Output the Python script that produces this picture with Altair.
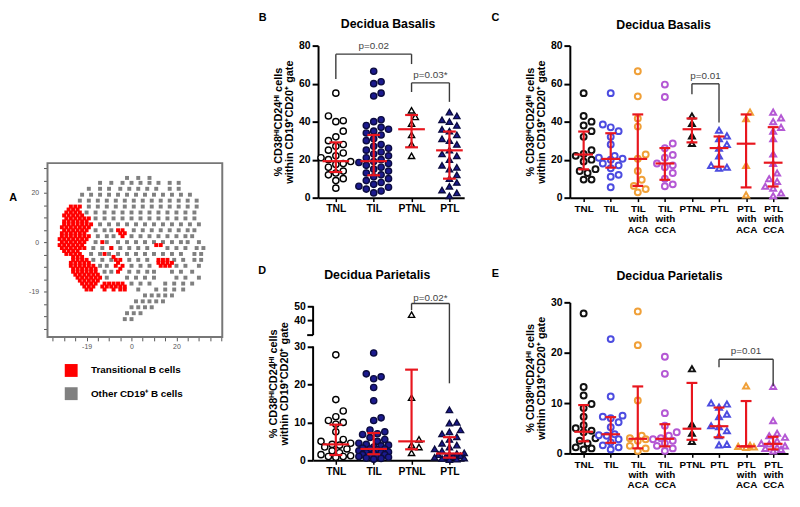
import altair as alt
import pandas as pd

FONT = "Liberation Sans"
RED_BAR = "#e8161e"
NAVY = "#1b1a8e"
C_BLACK = "#111111"
C_BLUE = "#4c4ce0"
C_ORANGE = "#f0a038"
C_PURPLE = "#b458d4"
BRACKET = "#3a3a3a"

# ---------------- Panel A: t-SNE map, read row by row (y: list of x) ----------------
gray_y = [26.0, 24.0, 21.6, 19.2, 16.8, 14.4, 12.0, 9.6, 7.2, 4.8, 2.4, 0.0, -2.4, -4.8,
          -7.2, -9.6, -12.0, -14.4, -16.8, -19.2, -21.6, -24.0, -26.4, -28.8, -31.2]
gray_x = [
    [-2, 3, 8],
    [-14, -9, -4, 0, 4, 8, 12, 17, 21],
    [-19, -14, -10, -5, -1, 3, 7, 11, 17, 21],
    [-22, -18, -14, -10, -6, -2, 2, 6, 10, 14, 18, 22, 26],
    [-23, -19, -15, -11, -7, -3, 1, 5, 9, 13, 17, 21, 25, 29],
    [-19, -15, -11, -7, -3, 1, 5, 9, 13, 17, 21, 25, 29],
    [-20, -16, -12, -8, -4, 0, 4, 8, 12, 16, 20, 24, 28],
    [-16, -12, -8, -4, 0, 4, 8, 12, 16, 20, 24, 28],
    [-14, -10, -6, -2, 2, 6, 10, 14, 18, 22, 26, 30],
    [-16, -12, -9, 1, 5, 9, 13, 17, 21, 25, 28],
    [-15, -11, -8, 0, 4, 8, 12, 16, 20, 24, 27],
    [-16, -11, -6, -2, 2, 6, 10, 14, 18, 22, 25, 30],
    [-17, -13, -9, -5, -1, 3, 7, 16, 20, 24, 29, 32],
    [-18, -14, -10, -6, -2, 2, 6, 10, 14, 18, 22, 28, 31],
    [-17, -13, -9, -1, 3, 7, 19, 23, 28, 31],
    [-14, -11, 0, 4, 8, 20, 24, 30],
    [-12, -9, -1, 3, 7, 10, 18, 22, 27],
    [-11, -2, 2, 6, 10, 20, 24, 30],
    [0, 4, 8, 15, 19, 23, 27],
    [3, 11, 15, 19, 23],
    [6, 9, 12, 15, 18],
    [2, 5, 8, 11, 14],
    [0, 3, 6, 9],
    [-2, 1, 4],
    [-3, 0],
]
red_y = [14.4, 13.2, 12.0, 10.8, 9.6, 8.4, 7.2, 6.0, 4.8, 3.6, 2.4, 1.2, 0.0, -1.2, -2.4,
         -3.6, -4.8, -6.0, -7.2, -8.4, -9.6, -10.8, -12.0, -13.2, -14.4, -15.6, -16.8, -18.0, -19.2]
red_x = [
    [-27, -25, -23],
    [-28, -26, -24],
    [-29, -27, -25, -23],
    [-30, -28, -26, -24, -22],
    [-29, -27, -25, -23, -21, -19],
    [-30, -28, -26, -24, -22, -20],
    [-30, -28, -26, -24, -22, -20, -18],
    [-31, -29, -27, -25, -23, -21, -19],
    [-30, -28, -26, -24, -22, -20, -6, -4],
    [-31, -29, -27, -25, -23, -21, -5, -3],
    [-31, -29, -27, -25, -23, -21, -19, -4],
    [-32, -30, -28, -26, -24, -22, -20],
    [-31, -29, -27, -25, -23, -21, -13],
    [-32, -30, -28, -26, -24, -22, 11, 13],
    [-31, -29, -27, -25, -23, -21, -9],
    [-30, -28, -26, -24],
    [-29, -27, -25, -23, -12],
    [-26, -24, -22, -8],
    [-26, -24, -22, -20, -7, -5, 12, 14, 16],
    [-27, -25, -23, -21, -19, -6, 12, 14, 16, 18],
    [-27, -25, -23, -21, -19, -17, -7, -4, 13, 15, 17],
    [-26, -24, -22, -20, -18, -16, -5],
    [-26, -24, -22, -20, -18, -16, -6],
    [-25, -23, -21, -19, -17, -15],
    [-24, -22, -20, -18, -16, -14],
    [-23, -21, -19, -17, -15],
    [-22, -20, -18, -16, -12, -10, -8, -6, -4],
    [-21, -19, -17, -13, -11, -9, -7, -5, -3],
    [-20, -18, -12, -8, -5, -3],
]
A_classes = ["Transitional B cells", "Other CD19⁺ B cells"]

# ---------------- Panels B / D: four groups ----------------
groups4 = ["TNL", "TIL", "PTNL", "PTL"]
labels4 = ["TNL", "TIL", "PTNL", "PTL"]

B_TNL = [55, 43, 40.5, 40, 35, 32, 30, 28, 27, 25, 23.5, 22, 21, 20, 19, 18, 17.5, 16, 14, 13, 12, 10, 9, 5]
B_TIL = [66.5, 61, 60, 55, 53.5, 41, 40, 38, 37, 36, 35, 34, 33, 31, 30, 28, 27, 26, 25, 24, 23, 22, 21,
         20, 19, 18.5, 18, 17, 16, 15, 14, 13, 12, 11, 10, 9, 8, 7, 6, 5.5, 4.5, 3.5, 2.5]
B_PTNL = [46, 42.5, 39, 33, 28, 22]
B_PTL = [45, 43, 41, 40, 38, 36, 35, 33, 31, 30, 28, 25, 23, 22, 20, 17, 16, 15, 12, 10, 8, 6, 4, 2.5, 1]
B_med = [19.2, 19.2, 36.0, 24.9]
B_q1 = [13.5, 11.8, 26.5, 10.0]
B_q3 = [29.1, 33.0, 43.5, 34.8]

D_TNL = [27.8, 16, 13, 11.5, 10.5, 10, 9.5, 7.5, 5.5, 5, 4.5, 4.2, 4, 3.5, 3, 2.5, 2, 1.5, 1.2, 1, 1, 0.8]
D_TIL = [28.3, 22.8, 22, 21.5, 19.2, 15.7, 11.2, 10.5, 8, 7.5, 7, 6.8, 6, 5.5, 5, 4.5, 4.2, 4, 3.8, 3.5,
         3.2, 3, 3, 2.8, 2.5, 2.2, 2, 2, 1.8, 1.5, 1.5, 1.2, 1, 1, 0.8, 0.6, 0.5, 0.3]
D_PTNL = [44, 16.5, 5.5, 4, 3.5, 2]
D_PTL = [13.3, 10, 9.8, 8, 7.5, 7, 6.2, 5.5, 4.5, 4, 3.5, 3, 2.5, 2, 1.8, 1.6, 1.5, 1.2, 1, 1, 0.8,
         0.6, 0.5, 0.3, 0.2]
D_med = [4.2, 3.0, 5.0, 1.8]
D_q1 = [1.4, 1.6, 2.9, 0.7]
D_q3 = [9.4, 7.2, 23.9, 6.1]

# ---------------- Panels C / E: eight groups ----------------
groups8 = ["TNL", "TIL", "TIL with ACA", "TIL with CCA", "PTNL", "PTL", "PTL with ACA", "PTL with CCA"]
labels8 = ["TNL", "TIL", "TIL|with|ACA", "TIL|with|CCA", "PTNL", "PTL", "PTL|with|ACA", "PTL|with|CCA"]

C_TNL = [55, 43, 40, 38, 35, 32, 25, 23, 22, 20, 19, 15, 14, 13, 9.5, 9.5]
C_TIL = [55, 38.5, 37, 35, 32, 28, 22, 21, 20.5, 20, 18, 17, 15.5, 12, 11, 5.5]
C_TILACA = [66.5, 53.3, 41.7, 37.4, 22.7, 20.5, 14, 9.4, 6.2, 4.5, 2.8]
C_TILCCA = [59.5, 53, 28.5, 26, 22.5, 21, 18, 17, 16, 13, 10, 7, 6]
C_PTNL = [43, 39, 32.5, 28.5]
C_PTL = [35.5, 32.5, 31, 28, 26, 22, 17, 16, 15.5]
C_PTLACA = [45, 41.5, 17, 1.5]
C_PTLCCA = [45, 42, 40, 37, 35, 31, 23, 18, 13, 10, 8.5, 6, 5, 2.5, 1]
C_med = [22.7, 20.4, 20.4, 18.0, 36.0, 26.1, 28.4, 18.4]
C_q1 = [14.9, 15.8, 6.2, 9.4, 29.1, 16.3, 5.4, 5.9]
C_q3 = [34.8, 33.9, 43.8, 26.1, 41.7, 32.2, 43.8, 37.1]

E_TNL = [27.8, 13.2, 11.5, 9.8, 9, 7.3, 5.6, 5, 4.5, 4.2, 3, 2.5, 2, 1.2, 1, 0.8]
E_TIL = [22.7, 11.3, 7.5, 7.3, 7, 6.2, 5.2, 3.8, 3.6, 3.5, 2.8, 2.2, 1.6, 1.2, 0.8]
E_TILACA = [28.2, 21.5, 10.5, 3.5, 3, 2.8, 2.5, 1.5, 1, 0.5]
E_TILCCA = [19.2, 15.8, 8, 5.5, 4.2, 3.5, 3, 2.8, 2.5, 2, 1.5, 1, 0.5]
E_PTNL = [16.8, 5.8, 4, 2.4]
E_PTL = [10, 9.8, 9.2, 7.8, 7.3, 5.5, 5.3, 4.5, 3.5, 1.8, 1.7]
E_PTLACA = [13.4, 1.6, 1.4, 1.3, 1.2]
E_PTLCCA = [13.3, 6.5, 4, 3.5, 3.2, 2.5, 2, 1.9, 1.5, 1.2, 1, 0.8, 0.5]
E_med = [4.3, 3.8, 2.9, 2.9, 4.9, 5.4, 1.4, 1.9]
E_q1 = [2.4, 2.1, 1.0, 1.4, 2.7, 3.2, 1.4, 0.8]
E_q3 = [9.6, 7.2, 13.3, 5.8, 14.0, 9.1, 10.4, 3.3]

Y_TITLE = ["% CD38ᴴᴵCD24ᴴᴵ cells", "within CD19⁺CD20⁺ gate"]

# broken-axis mapping for panel D (values above the break are compressed)
BRK0, BRKK, BRK_LO = 36.9, 0.37, 33.0

# whole figure = one layered view; each panel gets its own pixel sub-range
FIG_W, FIG_H = 790, 485


def swarm(ypx, d, maxw):
    order = sorted(range(len(ypx)), key=lambda i: ypx[i])
    placed, offs = [], [0.0] * len(ypx)
    cands = [0.0]
    k = 1
    while k * d * 0.5 <= maxw:
        cands += [k * d * 0.5, -k * d * 0.5]
        k += 1
    for i in order:
        y = ypx[i]
        best, bestscore = 0.0, -1.0
        for c in cands:
            md = min(((c - px) ** 2 + (y - py) ** 2 for px, py in placed), default=1e9)
            if md >= (0.95 * d) ** 2:
                best = c
                break
            if md > bestscore:
                bestscore, best = md, c
        offs[i] = best
        placed.append((best, y))
    return offs


def panel(groups, labels, values, med, q1, q3, shapes, fills, strokes, xdom, ydom, box,
          yvals, texts, brackets, mhw, chw, msize, mstroke, d, maxw, lfs, lh,
          broken=False, ylabexpr=None):
    L, T, W, H = box  # plot box inside the figure
    kx = W / (xdom[1] - xdom[0])
    ky = H / (ydom[1] - ydom[0])

    def fwd(v):
        if broken and v > 30:
            return BRK0 + (v - 40) * BRKK
        return v

    def yexpr(f):
        if broken:
            return f"datum.{f} <= 30 ? datum.{f} : {BRK0} + (datum.{f} - 40) * {BRKK}"
        return f"datum.{f}"

    prow = []
    for gi, (g, vals) in enumerate(zip(groups, values)):
        offs = swarm([fwd(v) * ky for v in vals], d, maxw)
        for v, o in zip(vals, offs):
            prow.append({"g": g, "v": v, "xp": gi + o / kx})
    pts = pd.DataFrame(prow)

    bars = []
    for gi in range(len(groups)):
        bars.append(dict(x1=gi - mhw / kx, x2=gi + mhw / kx, y1=med[gi], y2=med[gi]))
        bars.append(dict(x1=gi, x2=gi, y1=q1[gi], y2=q3[gi]))
        for q in (q1[gi], q3[gi]):
            bars.append(dict(x1=gi - chw / kx, x2=gi + chw / kx, y1=q, y2=q))
    bars = pd.DataFrame(bars)

    brs, blabs = [], []
    for (a, b, top, ya, yb, lab, ly) in brackets:
        brs.append(dict(x1=a, x2=a, y1=ya, y2=top))
        brs.append(dict(x1=a, x2=b, y1=top, y2=top))
        brs.append(dict(x1=b, x2=b, y1=yb, y2=top))
        blabs.append(dict(x=(a + b) / 2, y=ly, t=lab))
    brs = pd.DataFrame(brs)
    blabs = pd.DataFrame(blabs)

    arr = "[" + ",".join("'" + l + "'" for l in labels) + "]"
    xaxis = alt.Axis(orient="bottom", offset=(T + H) - FIG_H,
                     values=list(range(len(labels))), labelExpr=f"split({arr}[datum.value], '|')",
                     title=None, grid=False, domainColor="black", domainWidth=2, tickColor="black",
                     tickWidth=1.5, tickSize=4, labelFont=FONT, labelFontSize=lfs, labelFontWeight="bold",
                     labelColor="black", labelPadding=2, labelLineHeight=lh, labelAngle=0,
                     labelBaseline="top", labelFlush=False, labelOverlap=False)
    ykw = dict(orient="left", offset=-L, values=yvals, title=Y_TITLE, titleFont=FONT, titleFontSize=11,
               titleFontWeight="bold", titleColor="black", titlePadding=4, titleLineHeight=11.5,
               grid=False, domain=not broken, domainColor="black", domainWidth=2, tickColor="black",
               tickWidth=2, tickSize=6, labelFont=FONT, labelFontSize=10.5, labelFontWeight="bold",
               labelColor="black", labelPadding=2, labelFlush=False, labelOverlap=False)
    if ylabexpr:
        ykw["labelExpr"] = ylabexpr
    yaxis = alt.Axis(**ykw)
    xs = alt.Scale(domain=list(xdom), range=[L, L + W], nice=False, zero=False)
    ys = alt.Scale(domain=list(ydom), range=[T + H, T], nice=False, zero=False)

    p = alt.Chart(pts).transform_calculate(yp=yexpr("v")).mark_point(
        filled=True, opacity=1, size=msize, strokeWidth=mstroke).encode(
        x=alt.X("xp:Q", scale=xs, axis=xaxis),
        y=alt.Y("yp:Q", scale=ys, axis=yaxis),
        shape=alt.Shape("g:N", scale=alt.Scale(domain=groups, range=shapes), legend=None),
        fill=alt.Fill("g:N", scale=alt.Scale(domain=groups, range=fills), legend=None),
        stroke=alt.Stroke("g:N", scale=alt.Scale(domain=groups, range=strokes), legend=None),
    )
    eb = alt.Chart(bars).transform_calculate(a=yexpr("y1"), b=yexpr("y2")).mark_rule(
        color=RED_BAR, strokeWidth=2.2).encode(
        x=alt.X("x1:Q", scale=xs, axis=xaxis), x2="x2:Q",
        y=alt.Y("a:Q", scale=ys, axis=yaxis), y2="b:Q")
    br = alt.Chart(brs).transform_calculate(a=yexpr("y1"), b=yexpr("y2")).mark_rule(
        color=BRACKET, strokeWidth=1.4).encode(
        x=alt.X("x1:Q", scale=xs, axis=xaxis), x2="x2:Q",
        y=alt.Y("a:Q", scale=ys, axis=yaxis), y2="b:Q")
    bl = alt.Chart(blabs).transform_calculate(yy=yexpr("y")).mark_text(
        font=FONT, fontSize=10, color="#444444", baseline="middle").encode(
        x=alt.X("x:Q", scale=xs, axis=xaxis), y=alt.Y("yy:Q", scale=ys, axis=yaxis), text="t:N")
    tx = alt.Chart(pd.DataFrame(texts)).mark_text(
        font=FONT, fontWeight="bold", color="black", baseline="middle").encode(
        x=alt.X("x:Q", scale=xs, axis=xaxis), y=alt.Y("y:Q", scale=ys, axis=yaxis), text="t:N",
        size=alt.Size("fs:Q", scale=None))
    layers = [p, eb, br, bl, tx]
    if broken:
        dom = pd.DataFrame([
            dict(x1=xdom[0], x2=xdom[0], y1=0, y2=30),
            dict(x1=xdom[0], x2=xdom[0], y1=BRK_LO, y2=ydom[1]),
            dict(x1=xdom[0] - 6 / kx, x2=xdom[0], y1=BRK_LO, y2=BRK_LO),
        ])
        layers.append(alt.Chart(dom).mark_rule(color="black", strokeWidth=2).encode(
            x=alt.X("x1:Q", scale=xs, axis=xaxis), x2="x2:Q",
            y=alt.Y("y1:Q", scale=ys, axis=yaxis), y2="y2:Q"))
    return alt.layer(*layers)


shapes4 = ["circle", "circle", "triangle-up", "triangle-up"]
fills4 = ["white", NAVY, "white", NAVY]
strokes4 = ["black", "#0c0c40", "black", "#0c0c40"]
shapes8 = ["circle"] * 4 + ["triangle-up"] * 4
fills8 = ["white"] * 8
strokes8 = [C_BLACK, C_BLUE, C_ORANGE, C_PURPLE] * 2

# boxes are (left, top, width, height) in figure pixels
B = panel(groups4, labels4, [B_TNL, B_TIL, B_PTNL, B_PTL], B_med, B_q1, B_q3,
          shapes4, fills4, strokes4, (-0.47, 3.39), (0, 80), (314, 35, 148, 154), [0, 20, 40, 60, 80],
          [dict(x=-1.93, y=94.5, t="B", fs=11), dict(x=1.38, y=91.4, t="Decidua Basalis", fs=12.5)],
          [(0, 2, 75.5, 62.5, 70.3, "p=0.02", 80.0), (2, 3, 60.4, 55.6, 50.4, "p=0.03*", 64.5)],
          13.5, 6.5, 40, 1.4, 7.5, 17, 10.5, 11)

D = panel(groups4, labels4, [D_TNL, D_TIL, D_PTNL, D_PTL], D_med, D_q1, D_q3,
          shapes4, fills4, strokes4, (-0.6, 3.39), (0, 40.6), (309, 299, 153, 156),
          [0, 10, 20, 30, 36.9, 40.6],
          [dict(x=-1.943, y=49.97, t="D", fs=11), dict(x=1.095, y=48.9, t="Decidua Parietalis", fs=12.5)],
          [(2, 3, 52.0, 47.3, 20.3, "p=0.02*", 55.9)],
          13.5, 6.5, 40, 1.4, 7.5, 17, 10.5, 11, broken=True,
          ylabexpr="datum.value > 35 ? (datum.value > 39 ? '50' : '40') : datum.label")

C = panel(groups8, labels8, [C_TNL, C_TIL, C_TILACA, C_TILCCA, C_PTNL, C_PTL, C_PTLACA, C_PTLCCA],
          C_med, C_q1, C_q3, shapes8, fills8, strokes8, (-0.51, 7.55), (0, 80), (569, 35, 221, 154),
          [0, 20, 40, 60, 80],
          [dict(x=-3.262, y=94.5, t="C", fs=11), dict(x=2.953, y=90.9, t="Decidua Basalis", fs=12.5)],
          [(4, 5, 59.9, 54.4, 39.5, "p=0.01", 64.0)],
          9.5, 5.5, 36, 2.0, 8, 12, 10, 10.5)

E = panel(groups8, labels8, [E_TNL, E_TIL, E_TILACA, E_TILCCA, E_PTNL, E_PTL, E_PTLACA, E_PTLCCA],
          E_med, E_q1, E_q3, shapes8, fills8, strokes8, (-0.51, 7.55), (0, 30), (569, 295, 221, 153),
          [0, 10, 20, 30],
          [dict(x=-3.263, y=35.6, t="E", fs=11), dict(x=3.173, y=35.3, t="Decidua Parietalis", fs=12.5)],
          [(5, 7, 18.7, 17.1, 13.4, "p=0.01", 20.4)],
          9.5, 5.5, 36, 2.0, 8, 12, 10, 10.5)

# ---------------- Panel A chart ----------------
arows = []
for y, xs_ in zip(gray_y, gray_x):
    for x in xs_:
        arows.append({"x": x, "y": y, "type": A_classes[1]})
for y, xs_ in zip(red_y, red_x):
    for x in xs_:
        arows.append({"x": x, "y": y, "type": A_classes[0]})
adf = pd.DataFrame(arows)

A_L, A_T, A_W, A_H = 40, 154, 177, 176
A_xdom, A_ydom = (-37.4, 40.4), (-38.4, 32)
xsA = alt.Scale(domain=list(A_xdom), range=[A_L, A_L + A_W], nice=False, zero=False)
ysA = alt.Scale(domain=list(A_ydom), range=[A_T + A_H, A_T], nice=False, zero=False)
lblA = "datum.value == -20 ? '-19' : ((datum.value == 0 || datum.value == 20) ? datum.label : '')"
axAx = alt.Axis(orient="bottom", offset=(A_T + A_H) - FIG_H, values=list(range(-35, 41, 5)),
                labelExpr=lblA, title=None, grid=False, domain=False,
                tickColor="#555555", tickSize=4, tickWidth=1, labelFont=FONT, labelFontSize=7,
                labelColor="#555555", labelPadding=2, labelFlush=False, labelOverlap=False)
axAy = alt.Axis(orient="left", offset=-A_L, values=list(range(-35, 31, 5)), labelExpr=lblA,
                title=None, grid=False, domain=False,
                tickColor="#555555", tickSize=4, tickWidth=1, labelFont=FONT, labelFontSize=7,
                labelColor="#555555", labelPadding=5, labelFlush=False, labelOverlap=False)

A_box = alt.Chart(pd.DataFrame([dict(x1=A_xdom[0], x2=A_xdom[1], y1=A_ydom[0], y2=A_ydom[1])])).mark_rect(
    fill="white", fillOpacity=0, stroke="#777777", strokeWidth=2).encode(
    x=alt.X("x1:Q", scale=xsA, axis=axAx), x2="x2:Q",
    y=alt.Y("y1:Q", scale=ysA, axis=axAy), y2="y2:Q")
A_pts = alt.Chart(adf).mark_square(size=16, opacity=1).encode(
    x=alt.X("x:Q", scale=xsA, axis=axAx),
    y=alt.Y("y:Q", scale=ysA, axis=axAy),
    color=alt.Color("type:N", scale=alt.Scale(domain=A_classes, range=["#ff0000", "#808080"]),
                    legend=alt.Legend(title=None, orient="none", legendX=57, legendY=357,
                                      symbolType="square", symbolSize=170, symbolStrokeWidth=0,
                                      labelFont=FONT, labelFontSize=10, labelFontWeight="bold",
                                      labelColor="black", labelOffset=13, rowPadding=9.5)),
)
A_txt = alt.Chart(pd.DataFrame([dict(x=-52.7, y=18, t="A")])).mark_text(
    font=FONT, fontWeight="bold", fontSize=11, color="black", baseline="middle").encode(
    x=alt.X("x:Q", scale=xsA, axis=axAx), y=alt.Y("y:Q", scale=ysA, axis=axAy), text="t:N")
A = alt.layer(A_box, A_pts, A_txt)

IND = dict(x="independent", y="independent", color="independent", fill="independent",
           stroke="independent", shape="independent", size="independent")

chart = alt.layer(A, B, C, D, E).resolve_scale(**IND).resolve_axis(
    x="independent", y="independent").resolve_legend(color="independent").properties(
    width=FIG_W, height=FIG_H, padding=0).configure(font=FONT).configure_view(
    stroke="transparent", strokeWidth=0)

chart.save("out.html", embed_options={"renderer": "svg", "actions": False})
